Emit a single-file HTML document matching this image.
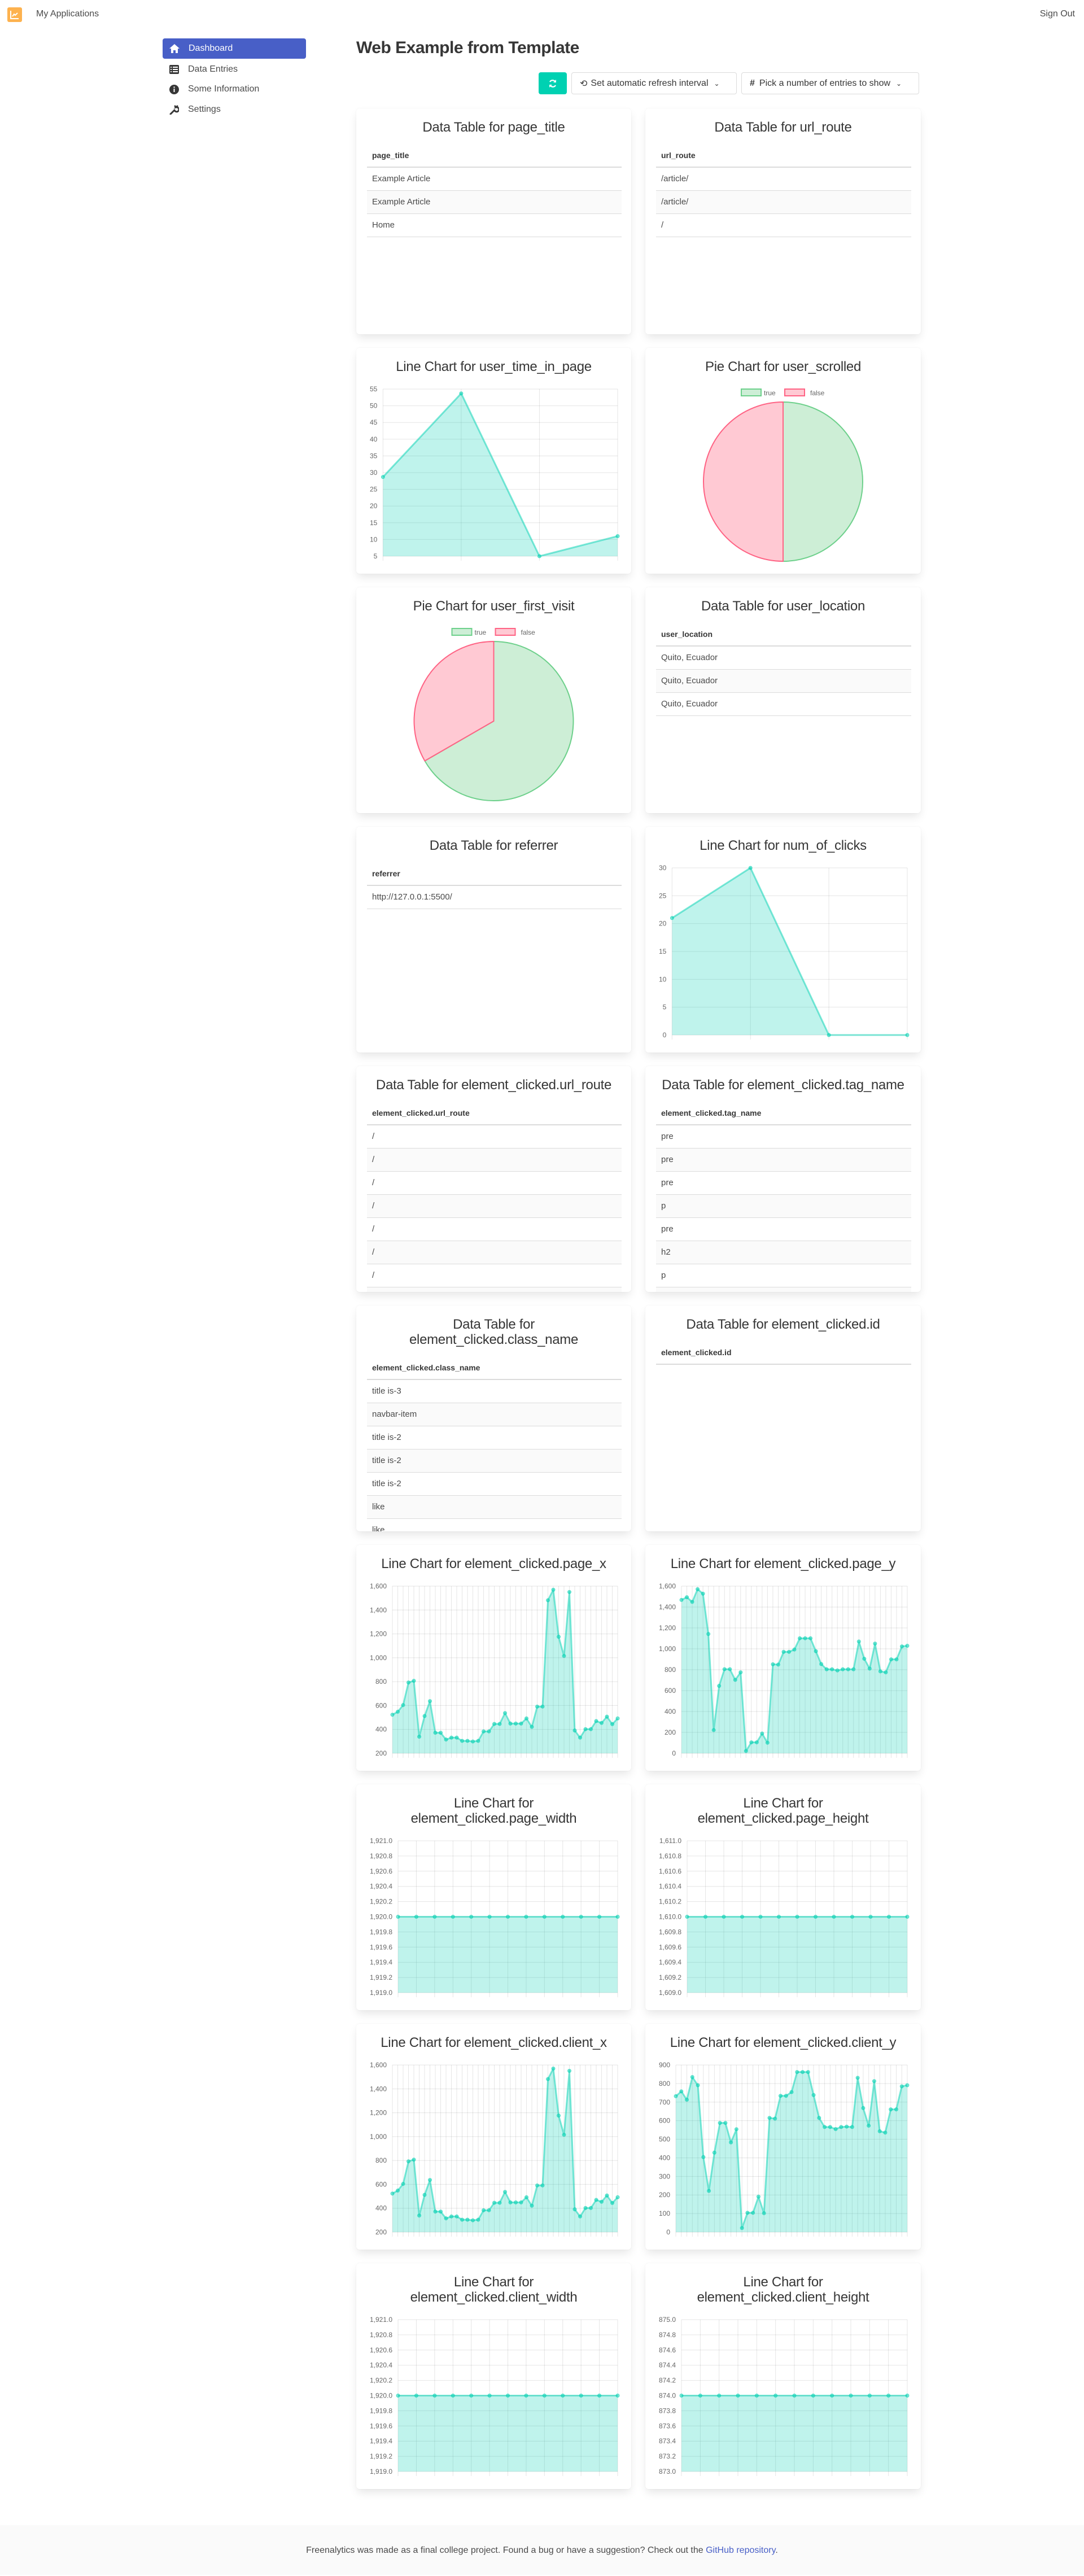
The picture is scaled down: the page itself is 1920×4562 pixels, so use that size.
<!DOCTYPE html>
<html><head><meta charset="utf-8"><title>Web Example from Template</title>
<style>
*{box-sizing:border-box;margin:0;padding:0}
body{width:1920px;height:4560px;position:relative;background:#fff;font-family:"Liberation Sans",sans-serif;color:#4a4a4a;overflow:hidden}
.abs{position:absolute}
.card{position:absolute;height:400px;background:#fff;border-radius:6px;box-shadow:0 8px 16px -2px rgba(10,10,10,.1),0 0 0 1px rgba(10,10,10,.02);overflow:hidden}
.card h2{font-size:24px;font-weight:normal;color:#363636;text-align:center;line-height:27px;padding:20px 12px 0;letter-spacing:-0.3px}
table{position:absolute;left:19px;width:calc(100% - 36px);border-collapse:collapse;font-size:15px}
th{text-align:left;font-weight:bold;color:#363636;height:42px;padding:0 9px;border-bottom:2px solid #dbdbdb;font-size:14px}
td{height:41px;padding:0 9px;border-bottom:1px solid #dbdbdb;color:#4a4a4a}
tbody tr:nth-child(even) td{background:#fafafa}
.side{position:absolute;left:288px;width:254px;height:36px;font-size:16px;display:flex;align-items:center;padding-left:12px;border-radius:4px}
.side svg{margin-right:16px}
.btn{position:absolute;top:128px;height:39px;border:1px solid #dbdbdb;border-radius:4px;display:flex;align-items:center;font-size:16px;color:#363636;padding-left:14px}
</style></head><body>
<div class="abs" style="left:0;top:0;width:1920px;height:52px">
  <div class="abs" style="left:13px;top:13px;width:26px;height:26px;background:#fdb24f;border-radius:3px">
    <svg width="26" height="26" viewBox="0 0 26 26"><path d="M6 6 V20 H20" stroke="#fff" stroke-width="2" fill="none"/><path d="M9 16 L12 12 L14 14 L18 10" stroke="#fff" stroke-width="2" fill="none"/></svg>
  </div>
  <div class="abs" style="left:64px;top:16px;font-size:16px;color:#4a4a4a">My Applications</div>
  <div class="abs" style="right:16px;top:16px;font-size:16px;color:#4a4a4a">Sign Out</div>
</div>

<div class="side" style="top:68px;background:#485fc7;color:#fff">
  <svg width="18" height="16" viewBox="0 0 18 16"><path d="M9 0 L18 8 H15 V16 H11 V11 H7 V16 H3 V8 H0 Z" fill="#fff"/></svg>Dashboard</div>
<div class="side" style="top:105px">
  <svg width="17" height="16" viewBox="0 0 17 16"><rect x="0" y="0" width="17" height="16" rx="2" fill="#363636"/><rect x="2" y="3" width="2" height="2" fill="#fff"/><rect x="6" y="3" width="9" height="2" fill="#fff"/><rect x="2" y="7" width="2" height="2" fill="#fff"/><rect x="6" y="7" width="9" height="2" fill="#fff"/><rect x="2" y="11" width="2" height="2" fill="#fff"/><rect x="6" y="11" width="9" height="2" fill="#fff"/></svg>Data Entries</div>
<div class="side" style="top:140px">
  <svg width="17" height="17" viewBox="0 0 17 17"><circle cx="8.5" cy="8.5" r="8.5" fill="#363636"/><rect x="7.5" y="7" width="2" height="6" fill="#fff"/><circle cx="8.5" cy="4.5" r="1.2" fill="#fff"/></svg>Some Information</div>
<div class="side" style="top:176px">
  <svg width="17" height="17" viewBox="0 0 17 17"><path d="M2 16 L9 9 M9 9 A4 4 0 1 0 12 4 L14 2 M12 4 L10 2" stroke="#363636" stroke-width="3" fill="none" stroke-linecap="round"/></svg>Settings</div>

<h1 class="abs" style="left:631px;top:68px;font-size:30px;font-weight:bold;color:#363636;letter-spacing:-0.5px">Web Example from Template</h1>

<div class="abs" style="left:954px;top:128px;width:50px;height:39px;background:#00d1b2;border-radius:4px;display:flex;align-items:center;justify-content:center">
  <svg width="16" height="16" viewBox="0 0 16 16"><path d="M13 6 A5.5 5.5 0 0 0 3 5 M3 10 A5.5 5.5 0 0 0 13 11" stroke="#fff" stroke-width="2.2" fill="none"/><path d="M14 1 V6 H9 Z" fill="#fff"/><path d="M2 15 V10 H7 Z" fill="#fff"/></svg>
</div>
<div class="btn" style="left:1012px;width:293px">
  <span style="margin-right:6px">&#x27F2;</span>Set automatic refresh interval<span style="margin-left:10px;font-size:12px">&#x2304;</span></div>
<div class="btn" style="left:1313px;width:315px">
  <span style="margin-right:8px;font-weight:bold">#</span>Pick a number of entries to show<span style="margin-left:10px;font-size:12px">&#x2304;</span></div>

<div id="cards"></div>

<div class="abs" style="left:0;top:4472px;width:1920px;height:88px;background:#fafafa;text-align:center;font-size:16px;line-height:90px;color:#4a4a4a">Freenalytics was made as a final college project. Found a bug or have a suggestion? Check out the <span style="color:#485fc7">GitHub repository</span>.</div>

<script>
// ---- data ----
const pageTitleRows=["Example Article","Example Article","Home"];
const urlRouteRows=["/article/","/article/","/"];
const locationRows=["Quito, Ecuador","Quito, Ecuador","Quito, Ecuador"];
const referrerRows=["http://127.0.0.1:5500/"];
const ecUrlRouteRows=["/","/","/","/","/","/","/","/","/"];
const ecTagRows=["pre","pre","pre","p","pre","h2","p","pre","p"];
const ecClassRows=["title is-3","navbar-item","title is-2","title is-2","title is-2","like","like","like"];
const ecIdRows=[];

const pieLabels=["true","false"];
const scrolledValues=[1,1];
const firstVisitValues=[2,1];

const timeInPageValues=[28.7,53.7,5,11];
const timeInPageTicks=[5,10,15,20,25,30,35,40,45,50,55];
const clicksValues=[21,30,0,0];
const clicksTicks=[0,5,10,15,20,25,30];
const pageXValues=[523,548,604,793,807,339,512,637,372,372,315,331,331,304,304,299,304,383,383,446,446,537,449,449,449,492,421,591,591,1482,1570,1176,1015,1551,391,331,402,402,470,454,507,444,492];
const pageXTicks=[200,400,600,800,1000,1200,1400,1600];
const pageYValues=[1468,1494,1449,1571,1528,1142,222,645,805,805,703,775,22,105,105,189,101,852,849,971,971,993,1101,1101,1101,977,854,804,804,793,804,804,804,1070,905,811,1050,784,775,899,899,1023,1029];
const pageYTicks=[0,200,400,600,800,1000,1200,1400,1600];
const pageWidthValues=[1920,1920,1920,1920,1920,1920,1920,1920,1920,1920,1920,1920,1920];
const pageWidthTicks=[1919,1919.2,1919.4,1919.6,1919.8,1920,1920.2,1920.4,1920.6,1920.8,1921];
const pageHeightValues=[1610,1610,1610,1610,1610,1610,1610,1610,1610,1610,1610,1610,1610];
const pageHeightTicks=[1609,1609.2,1609.4,1609.6,1609.8,1610,1610.2,1610.4,1610.6,1610.8,1611];
const clientXValues=[523,548,604,793,807,339,512,637,372,372,315,331,331,304,304,299,304,383,383,446,446,537,449,449,449,492,421,591,591,1482,1570,1176,1015,1551,391,331,402,402,470,454,507,444,492];
const clientXTicks=[200,400,600,800,1000,1200,1400,1600];
const clientYValues=[732,758,713,835,791,404,222,428,588,588,483,554,22,104,104,191,102,615,611,734,734,754,862,862,862,738,615,566,566,555,566,568,566,831,668,573,813,543,536,661,661,785,791];
const clientYTicks=[0,100,200,300,400,500,600,700,800,900];
const clientWidthValues=[1920,1920,1920,1920,1920,1920,1920,1920,1920,1920,1920,1920,1920];
const clientWidthTicks=[1919,1919.2,1919.4,1919.6,1919.8,1920,1920.2,1920.4,1920.6,1920.8,1921];
const clientHeightValues=[874,874,874,874,874,874,874,874,874,874,874,874,874];
const clientHeightTicks=[873,873.2,873.4,873.6,873.8,874,874.2,874.4,874.6,874.8,875];

// ---- layout helpers ----
const NS="http://www.w3.org/2000/svg";
const cardsEl=document.getElementById('cards');
const measureCtx=document.createElement('canvas').getContext('2d');
measureCtx.font='12px "Liberation Sans"';
function cardBox(row,col,name){
  const c=document.createElement('div');
  c.className='card';
  
  
  c.style.left=(col===0?631:1143)+'px';
  c.style.width=(col===0?487:488)+'px';
  c.style.top=(192+424*row)+'px';
  cardsEl.appendChild(c);
  return c;
}
function addTitle(c,html){
  const h=document.createElement('h2');
  h.innerHTML=html;
  
  
  c.appendChild(h);
}
function tableCard(row,col,field,rows,twoLine){
  const c=cardBox(row,col,'table-card-'+field.replace(/[._]/g,'-'));
  addTitle(c,twoLine?'Data Table for<br>'+field:'Data Table for '+field);
  const t=document.createElement('table');
  
  
  t.style.top=(twoLine?89:62)+'px';
  let h='<thead><tr><th>'+field+'</th></tr></thead><tbody>';
  rows.forEach(r=>{h+='<tr><td>'+r+'</td></tr>';});
  t.innerHTML=h+'</tbody>';
  c.appendChild(t);
}
function el(tag,attrs,parent){
  const e=document.createElementNS(NS,tag);
  for(const k in attrs)e.setAttribute(k,attrs[k]);
  parent.appendChild(e);return e;
}
function fmt(v,dec){return v.toLocaleString('en-US',{minimumFractionDigits:dec,maximumFractionDigits:dec});}
function lineCard(row,col,field,values,ticks,dec,twoLine){
  const c=cardBox(row,col,'line-chart-card-'+field.replace(/[._]/g,'-'));
  addTitle(c,twoLine?'Line Chart for<br>'+field:'Line Chart for '+field);
  const W=col===0?487:488;
  const svg=el('svg',{width:W,height:400,style:'position:absolute;left:0;top:0'},c);
  
  
  const labels=ticks.map(t=>fmt(t,dec));
  const lw=Math.max(...labels.map(l=>measureCtx.measureText(l).width));
  const L=24+lw+10, R=W-24, T=twoLine?100:73, B=369;
  const yMin=ticks[0], yMax=ticks[ticks.length-1];
  const ys=v=>B-(v-yMin)/(yMax-yMin)*(B-T);
  const xs=i=>L+i*(R-L)/(values.length-1);
  ticks.forEach((t,i)=>{
    const y=ys(t);
    const g=el('line',{x1:L,x2:R,y1:y,y2:y,stroke:'rgba(0,0,0,0.1)','stroke-width':1},svg);
    
    const tx=el('text',{x:L-10,y:y+4,'text-anchor':'end','font-size':12,fill:'#666','font-family':'Liberation Sans, sans-serif'},svg);
    tx.textContent=labels[i];
    
  });
  values.forEach((v,i)=>{
    const x=xs(i);
    const g=el('line',{x1:x,x2:x,y1:T,y2:B+8,stroke:'rgba(0,0,0,0.1)','stroke-width':1},svg);
    
  });
  let d='M'+xs(0)+','+B;
  values.forEach((v,i)=>{d+=' L'+xs(i)+','+ys(v);});
  d+=' L'+xs(values.length-1)+','+B+' Z';
  const area=el('path',{d:d,fill:'rgba(0,209,178,0.25)'},svg);
  
  const pts=values.map((v,i)=>xs(i)+','+ys(v)).join(' ');
  const line=el('polyline',{points:pts,fill:'none',stroke:'rgba(0,209,178,0.5)','stroke-width':3,'stroke-linejoin':'round'},svg);
  
  values.forEach((v,i)=>{
    const p=el('circle',{cx:xs(i),cy:ys(v),r:3,fill:'rgba(0,209,178,0.5)',stroke:'rgba(0,209,178,0.6)','stroke-width':1},svg);
    
  });
}
const pieFill=['#cdeed6','#ffc9d3'], pieStroke=['#6dd08b','#ff6384'];
function pieCard(row,col,field,values){
  const c=cardBox(row,col,'pie-chart-card-'+field.replace(/[._]/g,'-'));
  addTitle(c,'Pie Chart for '+field);
  const W=col===0?487:488;
  const svg=el('svg',{width:W,height:400,style:'position:absolute;left:0;top:0'},c);
  
  
  const cx=W/2, cy=237, r=141;
  const legX=[cx-74,cx+3], legTX=[cx-34,cx+48];
  pieLabels.forEach((lab,i)=>{
    const b=el('rect',{x:legX[i],y:73,width:35,height:12,fill:pieFill[i],stroke:pieStroke[i],'stroke-width':2},svg);
    
    const t=el('text',{x:legTX[i],y:84,'font-size':12,fill:'#666','font-family':'Liberation Sans, sans-serif'},svg);
    t.textContent=lab;
    
  });
  const total=values.reduce((a,b)=>a+b,0);
  let a0=-Math.PI/2;
  values.forEach((v,i)=>{
    const a1=a0+v/total*2*Math.PI;
    const large=(a1-a0)>Math.PI?1:0;
    const x0=cx+r*Math.cos(a0), y0=cy+r*Math.sin(a0), x1=cx+r*Math.cos(a1), y1=cy+r*Math.sin(a1);
    const s=el('path',{d:`M${cx},${cy} L${x0},${y0} A${r},${r} 0 ${large} 1 ${x1},${y1} Z`,fill:pieFill[i],stroke:pieStroke[i],'stroke-width':2,'stroke-linejoin':'round'},svg);
    
    a0=a1;
  });
}

tableCard(0,0,'page_title',pageTitleRows);
tableCard(0,1,'url_route',urlRouteRows);
lineCard(1,0,'user_time_in_page',timeInPageValues,timeInPageTicks,0,false);
pieCard(1,1,'user_scrolled',scrolledValues);
pieCard(2,0,'user_first_visit',firstVisitValues);
tableCard(2,1,'user_location',locationRows);
tableCard(3,0,'referrer',referrerRows);
lineCard(3,1,'num_of_clicks',clicksValues,clicksTicks,0,false);
tableCard(4,0,'element_clicked.url_route',ecUrlRouteRows);
tableCard(4,1,'element_clicked.tag_name',ecTagRows);
tableCard(5,0,'element_clicked.class_name',ecClassRows,true);
tableCard(5,1,'element_clicked.id',ecIdRows);
lineCard(6,0,'element_clicked.page_x',pageXValues,pageXTicks,0,false);
lineCard(6,1,'element_clicked.page_y',pageYValues,pageYTicks,0,false);
lineCard(7,0,'element_clicked.page_width',pageWidthValues,pageWidthTicks,1,true);
lineCard(7,1,'element_clicked.page_height',pageHeightValues,pageHeightTicks,1,true);
lineCard(8,0,'element_clicked.client_x',clientXValues,clientXTicks,0,false);
lineCard(8,1,'element_clicked.client_y',clientYValues,clientYTicks,0,false);
lineCard(9,0,'element_clicked.client_width',clientWidthValues,clientWidthTicks,1,true);
lineCard(9,1,'element_clicked.client_height',clientHeightValues,clientHeightTicks,1,true);
</script>
</body></html>
